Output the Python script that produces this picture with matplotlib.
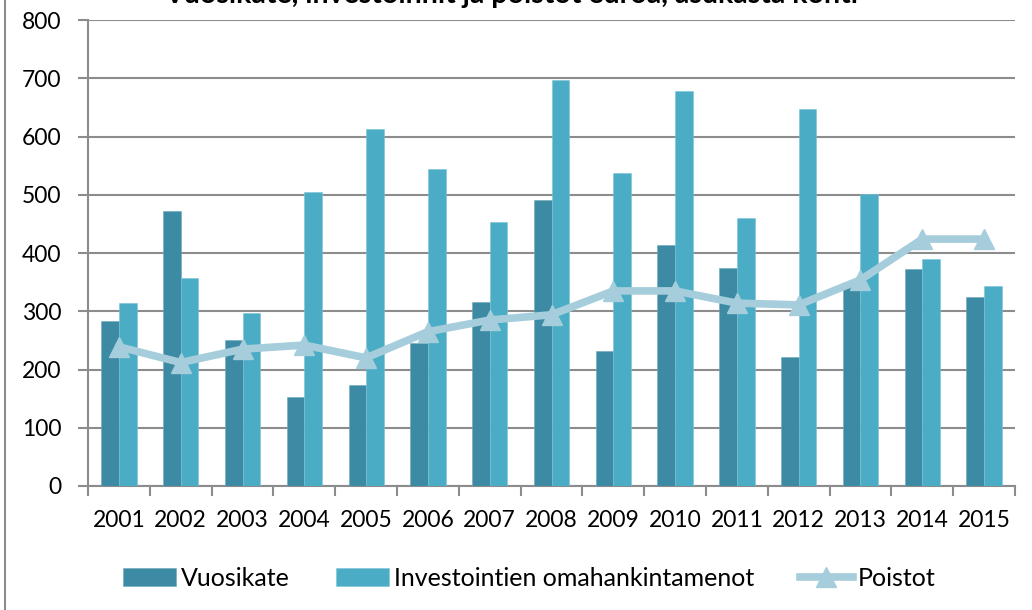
import numpy as np
import matplotlib
matplotlib.use("Agg")
from matplotlib import pyplot as plt
from matplotlib.lines import Line2D

plt.rcParams['font.family'] = ['Lato', 'DejaVu Sans']

years = ["2001", "2002", "2003", "2004", "2005", "2006", "2007", "2008",
         "2009", "2010", "2011", "2012", "2013", "2014", "2015"]
vuosikate = [284, 473, 251, 152, 174, 246, 316, 491, 232, 413, 375, 221, 348, 373, 325]
investoinnit = [315, 358, 297, 504, 613, 544, 453, 698, 538, 679, 460, 647, 501, 389, 343]
poistot = [239, 212, 235, 242, 220, 265, 285, 294, 335, 335, 314, 311, 354, 424, 424]

dark = "#3c8aa3"
light = "#4bacc6"
line_col = "#a5cddb"
grid_col = "#8c8c8c"

fig = plt.figure(figsize=(10.32, 6.10), dpi=100)
ax = fig.add_axes([0.0853, 0.2033, 0.8982, 0.7637])

x = np.arange(len(years))
w = 0.285
ax.bar(x - w / 2, vuosikate, width=w, color=dark, edgecolor="#6fa9bc", linewidth=0.4,
       label="Vuosikate", zorder=3)
ax.bar(x + w / 2, investoinnit, width=w, color=light, edgecolor="#7cc3d6", linewidth=0.4,
       label="Investointien omahankintamenot", zorder=3)
ax.plot(x, poistot, color=line_col, linewidth=5.5, marker="^", markersize=15,
        markerfacecolor=line_col, markeredgecolor=line_col, label="Poistot", zorder=4)

ax.set_xlim(-0.5, len(years) - 0.5)
ax.set_ylim(0, 800)
ax.set_yticks(range(0, 801, 100))
ax.set_xticks(x)
ax.set_xticklabels(years)
ax.set_xticks(np.arange(-0.5, len(years), 1), minor=True)
ax.tick_params(axis="x", which="major", length=0, labelsize=16.5, pad=17)
ax.tick_params(axis="x", which="minor", length=7, width=1.5, color=grid_col, direction="out")
ax.tick_params(axis="y", length=7, width=1.5, color=grid_col, labelsize=16.5, pad=12)

ax.yaxis.grid(True, color=grid_col, linewidth=1.5, zorder=0)
ax.set_axisbelow(True)
for s in ["top", "right"]:
    ax.spines[s].set_visible(False)
for s in ["left", "bottom"]:
    ax.spines[s].set_color(grid_col)
    ax.spines[s].set_linewidth(1.5)

# title is clipped at the top edge in the original
fig.text(0.495, 1 - 3 / 610, "Vuosikate, investoinnit ja poistot euroa, asukasta kohti",
         ha="center", va="baseline", fontsize=20.5, fontweight="bold")

# chart frame on the left
fig.add_artist(Line2D([5 / 1032, 5 / 1032], [0, 1], color=grid_col, linewidth=1.5))

handles, labels = ax.get_legend_handles_labels()
order = [1, 2, 0]
fig.legend([handles[i] for i in order], [labels[i] for i in order], loc="center",
           bbox_to_anchor=(0.513, 1 - 578 / 610), ncol=3, frameon=False, fontsize=18,
           handlelength=2.1, handletextpad=0.2, columnspacing=1.85)

fig.savefig("out.png", dpi=100)
